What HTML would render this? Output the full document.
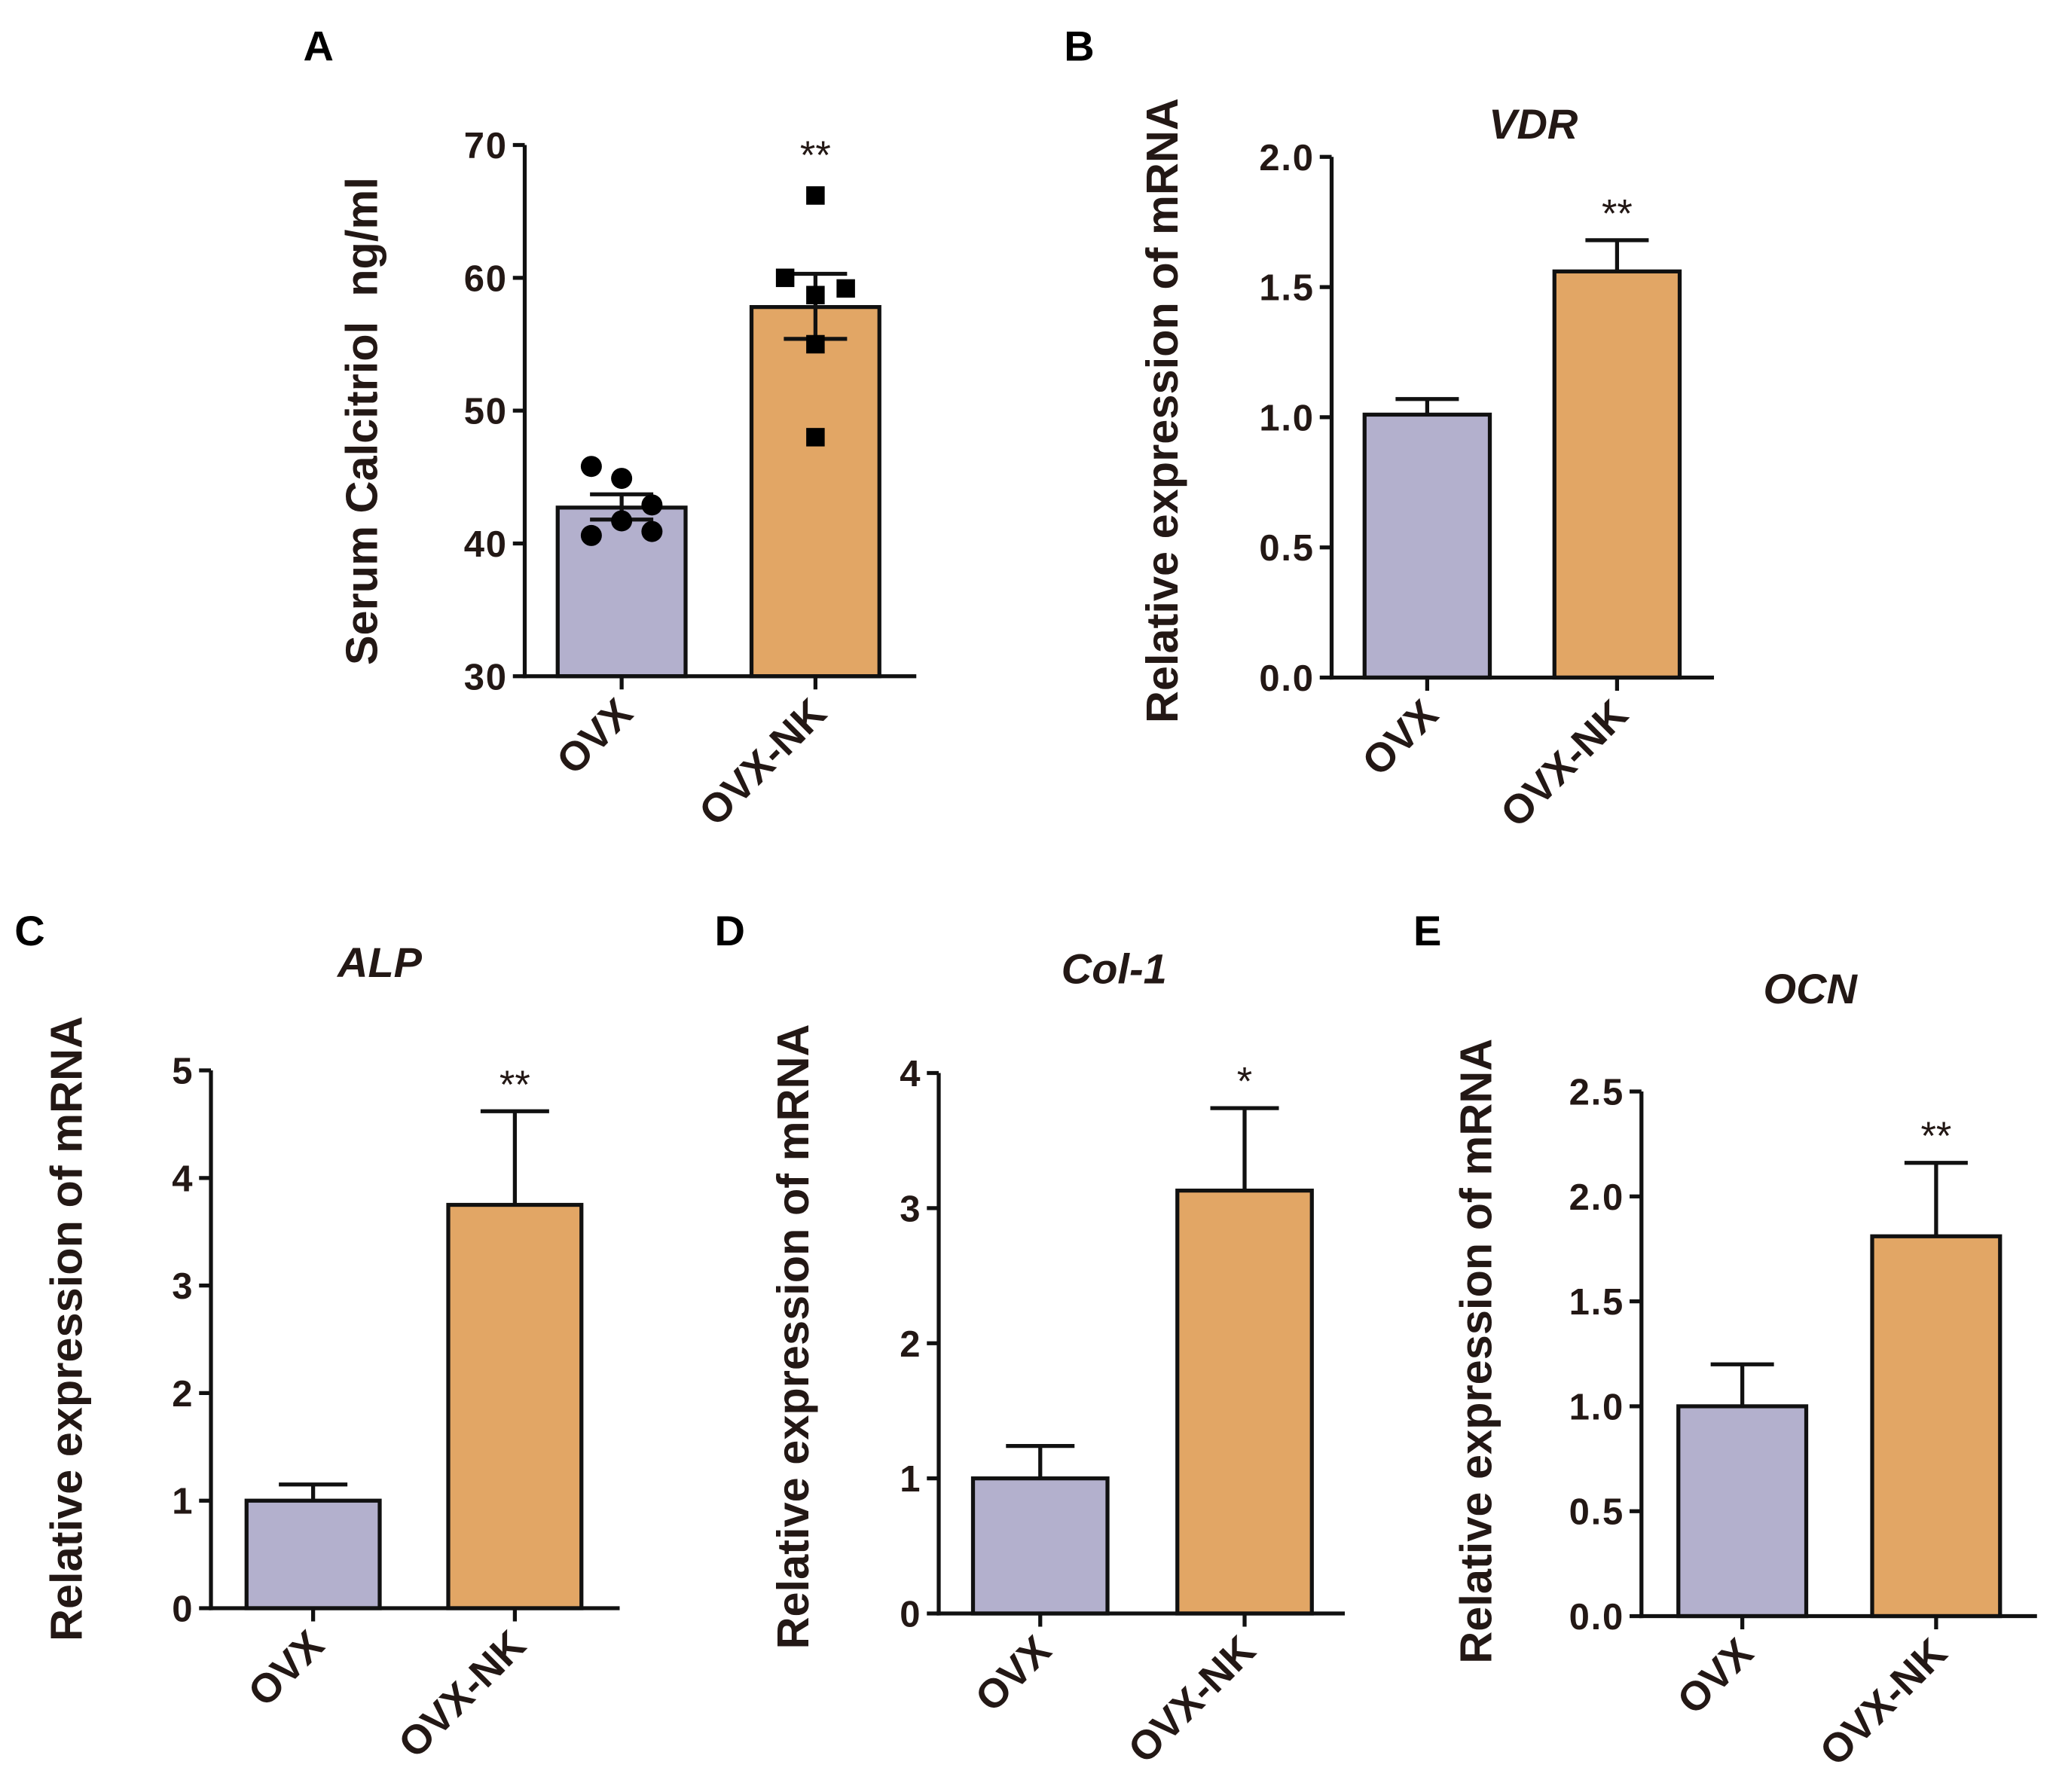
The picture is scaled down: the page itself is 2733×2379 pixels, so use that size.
<!DOCTYPE html>
<html><head><meta charset="utf-8"><style>
html,body{margin:0;padding:0;background:#fff;}
svg{display:block;font-family:"Liberation Sans",Arial,sans-serif;}
text{white-space:pre;}
</style></head><body>
<svg id="fig" width="2733" height="2379" viewBox="0 0 1561.7 1359.4" xmlns="http://www.w3.org/2000/svg"></svg>
<script>
const categories = ["OVX","OVX-NK"];
const aMeans = [42.7, 57.8];
const aErrLow = [41.8, 55.4];
const aErrHigh = [43.7, 60.3];
const aOvxPoints = [45.8, 44.9, 42.9, 41.7, 40.6, 40.9];
const aNkPoints = [66.2, 60.0, 59.2, 58.7, 55.0, 48.0];
const aTicks = [30, 40, 50, 60, 70];
const vdrMeans = [1.01, 1.56];
const vdrErr = [1.07, 1.68];
const vdrTicks = ["0.0","0.5","1.0","1.5","2.0"];
const alpMeans = [1.0, 3.75];
const alpErr = [1.15, 4.62];
const alpTicks = ["0","1","2","3","4","5"];
const colMeans = [1.0, 3.13];
const colErr = [1.24, 3.74];
const colTicks = ["0","1","2","3","4"];
const ocnMeans = [1.0, 1.81];
const ocnErr = [1.2, 2.16];
const ocnTicks = ["0.0","0.5","1.0","1.5","2.0","2.5"];

const svg = document.getElementById('fig');
const NS = "http://www.w3.org/2000/svg";
function mk(tag, attrs, parent, text){
  const e = document.createElementNS(NS, tag);
  for (const k in attrs) e.setAttribute(k, attrs[k]);
  if (text !== undefined) e.textContent = text;
  (parent||svg).appendChild(e);
  return e;
}
const colors = ["#b3b0cd","#e2a665"];

function panel(p){
  const g = mk('g', {});
  
  
  const ymin = p.ymin, ymax = p.ymax;
  const Y = v => p.y0 - (v - ymin) / (ymax - ymin) * (p.y0 - p.y1);
  p.means.forEach((m, i) => {
    const bx = p.barX[i];
    const r = mk('rect', {x: bx, y: Y(m), width: p.bw, height: p.y0 - Y(m), fill: colors[i], stroke: '#111', 'stroke-width': 3}, g);
    
    
    const cx = bx + p.bw/2;
    const lo = p.errLow ? p.errLow[i] : m;
    const hi = p.errHigh[i];
    const eg = mk('g', {stroke: '#111', 'stroke-width': 3}, g);
    
    
    mk('line', {x1: cx, x2: cx, y1: Y(lo), y2: Y(hi)}, eg);
    mk('line', {x1: cx - p.capw, x2: cx + p.capw, y1: Y(hi), y2: Y(hi)}, eg);
    if (p.errLow) mk('line', {x1: cx - p.capw, x2: cx + p.capw, y1: Y(lo), y2: Y(lo)}, eg);
  });
  if (p.points) {
    const offs = [-23, 0, 23, 0, -23, 23];
    const offsNk = [0, -23, 23, 0, 0, 0];
    p.points[0].forEach((v, j) => {
      const c = mk('circle', {cx: p.barX[0] + p.bw/2 + offs[j], cy: Y(v), r: 8, fill: '#000'}, g);
      
      
    });
    p.points[1].forEach((v, j) => {
      const s = mk('rect', {x: p.barX[1] + p.bw/2 + offsNk[j] - 7, y: Y(v) - 7, width: 14, height: 14, fill: '#000'}, g);
      
      
    });
  }
  const ax = mk('g', {stroke: '#111', 'stroke-width': 3}, g);
  
  
  mk('line', {x1: p.x0, x2: p.x0, y1: p.y1, y2: p.y0 + 1.5}, ax);
  mk('line', {x1: p.x0 - 1.5, x2: p.xEnd, y1: p.y0, y2: p.y0}, ax);
  p.ticks.forEach(t => {
    const v = parseFloat(t);
    mk('line', {x1: p.x0 - 9, x2: p.x0, y1: Y(v), y2: Y(v)}, ax);
    const tl = mk('text', {x: p.x0 - 13, y: Y(v) + 10, 'text-anchor': 'end', 'font-size': 28, 'font-weight': 'bold', 'letter-spacing': 1, fill: '#231815'}, g, t);
    
    
  });
  categories.forEach((c, i) => {
    const cx = p.barX[i] + p.bw/2;
    mk('line', {x1: cx, x2: cx, y1: p.y0, y2: p.y0 + 10}, ax);
    const tx = cx + 10, ty = p.y0 + 30;
    const xl = mk('text', {x: tx, y: ty, 'text-anchor': 'end', 'font-size': 31, 'font-weight': 'bold', fill: '#231815', transform: `rotate(-45 ${tx} ${ty})`}, g, c);
    
    
  });
  const yc = (p.y0 + p.y1)/2 + p.ylShift;
  const yt = mk('text', {x: p.ylX, y: yc, 'text-anchor': 'middle', 'font-size': 34, 'font-weight': 'bold', fill: '#231815', transform: `rotate(-90 ${p.ylX} ${yc})`}, g, p.ylabel);
  
  
  if (p.title) {
    const tt = mk('text', {x: p.titleX, y: p.titleY, 'text-anchor': 'middle', 'font-size': 32, 'font-weight': 'bold', 'font-style': 'italic', fill: '#231815'}, g, p.title);
    
    
  }
  const sy = p.starY !== undefined ? p.starY : Y(p.errHigh[1]) - 10;
  const st = mk('text', {x: p.barX[1] + p.bw/2, y: sy, 'text-anchor': 'middle', 'font-size': 30, fill: '#231815'}, g, p.star);
  
  
  const lt = mk('text', {x: p.letterX, y: p.letterY, 'font-size': 32, 'font-weight': 'bold', fill: '#000'}, g, p.id);
  
  
}

panel({id:'A', ymin:30, ymax:70, y0:513, y1:110, x0:398, xEnd:695, barX:[423,570], bw:97, capw:24,
  means:aMeans, errLow:aErrLow, errHigh:aErrHigh, points:[aOvxPoints, aNkPoints], ticks:aTicks.map(String),
  ylabel:'Serum Calcitriol  ng/ml', ylX:286, ylShift:8, star:'**', starY:128, letterX:230, letterY:46});
panel({id:'B', ymin:0, ymax:2, y0:514, y1:119, x0:1010, xEnd:1300, barX:[1035,1179], bw:95, capw:24,
  means:vdrMeans, errHigh:vdrErr, ticks:vdrTicks, title:'VDR', titleX:1163, titleY:105,
  ylabel:'Relative expression of mRNA', ylX:893, ylShift:-5, star:'**', letterX:807, letterY:46});
panel({id:'C', ymin:0, ymax:5, y0:1220, y1:812, x0:160, xEnd:470, barX:[187,340], bw:101, capw:26,
  means:alpMeans, errHigh:alpErr, ticks:alpTicks, title:'ALP', titleX:288, titleY:741,
  ylabel:'Relative expression of mRNA', ylX:62, ylShift:-8, star:'**', letterX:11, letterY:717});
panel({id:'D', ymin:0, ymax:4, y0:1224, y1:814, x0:712, xEnd:1020, barX:[738,893], bw:102, capw:26,
  means:colMeans, errHigh:colErr, ticks:colTicks, title:'Col-1', titleX:845, titleY:746,
  ylabel:'Relative expression of mRNA', ylX:613, ylShift:-5, star:'*', letterX:542, letterY:717});
panel({id:'E', ymin:0, ymax:2.5, y0:1226, y1:828, x0:1245, xEnd:1545, barX:[1273,1420], bw:97, capw:24,
  means:ocnMeans, errHigh:ocnErr, ticks:ocnTicks, title:'OCN', titleX:1373, titleY:761,
  ylabel:'Relative expression of mRNA', ylX:1131, ylShift:-2, star:'**', letterX:1072, letterY:717});
</script>
</body></html>
